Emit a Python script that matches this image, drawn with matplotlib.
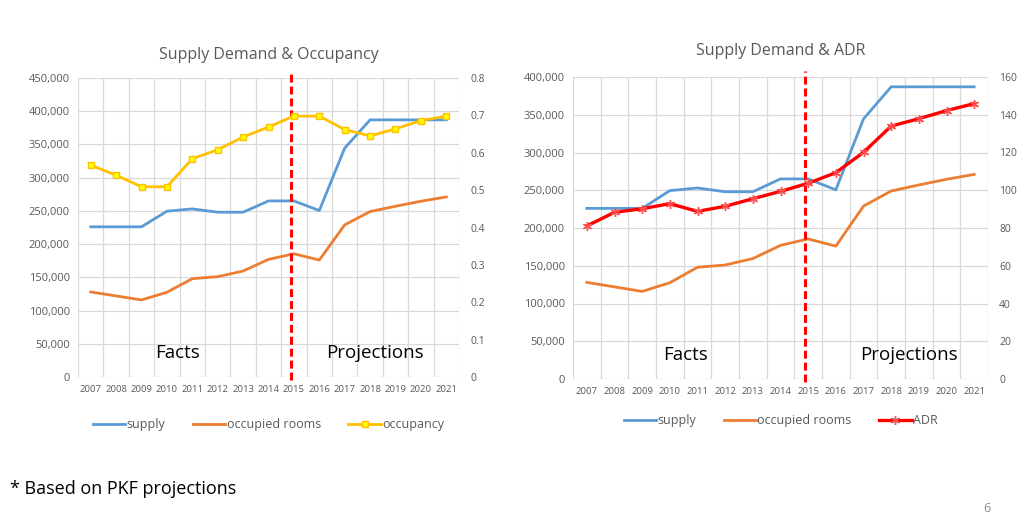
import matplotlib
matplotlib.use('Agg')
import matplotlib.pyplot as plt
from matplotlib.ticker import FuncFormatter, MultipleLocator

plt.rcParams['font.family'] = ['Open Sans', 'DejaVu Sans']

# data
years = [str(y) for y in range(2007, 2022)]
supply = [226000, 226000, 226000, 249500, 253000, 248000, 248000, 265000,
          265000, 250500, 344500, 387000, 387000, 387000, 387000]
occupied = [128000, 122000, 116000, 127500, 148000, 151000, 159500, 177000,
            185500, 176000, 229000, 249000, 257000, 264500, 271000]
occupancy = [0.567, 0.540, 0.509, 0.509, 0.584, 0.608, 0.642, 0.669,
             0.698, 0.698, 0.662, 0.645, 0.664, 0.686, 0.698]
adr = [81.1, 88.3, 90.2, 92.9, 88.8, 91.5, 95.5, 99.4,
       103.7, 109.3, 120.1, 134.0, 137.9, 142.2, 145.9]
split_pos = 7.9   # dashed line between facts and projections

BLUE = '#5b9bd5'
ORANGE = '#ed7d31'
GOLD = '#ffc000'
RED = '#ff0000'
GREY = '#595959'
GRID = '#d9d9d9'

fig = plt.figure(figsize=(10.24, 5.19), dpi=100)
W, H = 1024, 519

def box(x0, y0, x1, y1):
    return [x0 / W, 1 - y1 / H, (x1 - x0) / W, (y1 - y0) / H]

def setup(ax, ymax, ystep):
    x = list(range(len(years)))
    ax.set_xlim(-0.5, len(years) - 0.5)
    ax.set_ylim(0, ymax)
    ax.set_xticks(x)
    ax.set_xticklabels(years, fontsize=6.8, color=GREY)
    ax.set_xticks([i - 0.5 for i in range(len(years) + 1)], minor=True)
    ax.yaxis.set_major_locator(MultipleLocator(ystep))
    ax.yaxis.set_major_formatter(FuncFormatter(lambda v, p: f'{int(v):,}'))
    ax.tick_params(axis='both', which='both', length=0, colors=GREY)
    ax.tick_params(axis='y', labelsize=8, pad=6)
    ax.tick_params(axis='x', pad=6)
    ax.grid(True, axis='y', which='major', color=GRID, lw=0.9)
    ax.grid(True, axis='x', which='minor', color=GRID, lw=0.9)
    for s in ax.spines.values():
        s.set_visible(False)
    ax.set_axisbelow(True)
    ax.axvline(split_pos, ymin=-0.01, ymax=1.02, color=RED, lw=2.2,
               dashes=(2.6, 1.3), clip_on=False, zorder=5)
    return x

# ---- left chart: occupancy
ax1 = fig.add_axes(box(78, 78, 459, 377))
x = setup(ax1, 450000, 50000)
l1, = ax1.plot(x, supply, color=BLUE, lw=2, zorder=3)
l2, = ax1.plot(x, occupied, color=ORANGE, lw=2, zorder=3)
ax1r = ax1.twinx()
ax1r.set_ylim(0, 0.8)
ax1r.yaxis.set_major_locator(MultipleLocator(0.1))
ax1r.yaxis.set_major_formatter(FuncFormatter(lambda v, p: '0' if v == 0 else f'{v:.1f}'))
ax1r.tick_params(axis='y', length=0, labelsize=7.5, colors=GREY, pad=8)
for s in ax1r.spines.values():
    s.set_visible(False)
l3, = ax1r.plot(x, occupancy, color=GOLD, lw=2, marker='s', ms=5,
                markerfacecolor='#ffff00', markeredgecolor=GOLD, markeredgewidth=1, zorder=4)
ax1.set_title('Supply Demand & Occupancy', fontsize=11.5, color=GREY, pad=14)
ax1.text(0.26, 0.08, 'Facts', transform=ax1.transAxes, fontsize=13.5, ha='center', va='center')
ax1.text(0.78, 0.08, 'Projections', transform=ax1.transAxes, fontsize=13.5, ha='center', va='center')
ax1.legend([l1, l2, l3], ['supply', 'occupied rooms', 'occupancy'], ncol=3, frameon=False,
           loc='upper center', bbox_to_anchor=(0.5, -0.1), fontsize=9, handlelength=2.6,
           handletextpad=0.1, columnspacing=2.2, labelcolor=GREY)

# ---- right chart: ADR
ax2 = fig.add_axes(box(573, 77, 988, 379))
x = setup(ax2, 400000, 50000)
m1, = ax2.plot(x, supply, color=BLUE, lw=2, zorder=3)
m2, = ax2.plot(x, occupied, color=ORANGE, lw=2, zorder=3)
ax2r = ax2.twinx()
ax2r.set_ylim(0, 160)
ax2r.yaxis.set_major_locator(MultipleLocator(20))
ax2r.tick_params(axis='y', length=0, labelsize=7.5, colors=GREY, pad=8)
for s in ax2r.spines.values():
    s.set_visible(False)
m3, = ax2r.plot(x, adr, color=RED, lw=2.4, marker=(6, 2, 0), ms=6.5,
                markeredgecolor='#ff5050', markeredgewidth=1, zorder=4)
ax2.set_title('Supply Demand & ADR', fontsize=11.5, color=GREY, pad=16)
ax2.text(0.27, 0.08, 'Facts', transform=ax2.transAxes, fontsize=13.5, ha='center', va='center')
ax2.text(0.81, 0.08, 'Projections', transform=ax2.transAxes, fontsize=13.5, ha='center', va='center')
ax2.legend([m1, m2, m3], ['supply', 'occupied rooms', 'ADR'], ncol=3, frameon=False,
           loc='upper center', bbox_to_anchor=(0.5, -0.08), fontsize=9, handlelength=2.6,
           handletextpad=0.1, columnspacing=2.2, labelcolor=GREY)

fig.text(10 / W, 1 - 489 / H, '* Based on PKF projections', fontsize=13, va='center')
fig.text(987 / W, 1 - 509 / H, '6', fontsize=9, color='#8c8c8c', ha='center', va='center')

fig.savefig('out.png', dpi=100)
